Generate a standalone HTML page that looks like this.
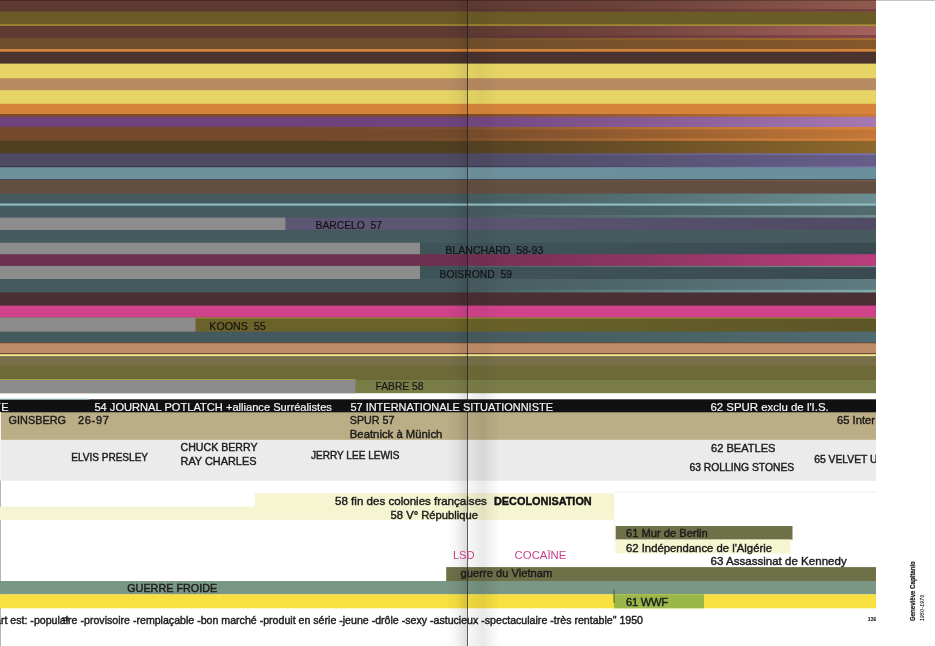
<!DOCTYPE html>
<html lang="fr"><head><meta charset="utf-8"><title>Spread 138-139</title>
<style>
html,body{margin:0;padding:0;background:#fff;}
body{width:935px;height:646px;position:relative;overflow:hidden;font-family:"Liberation Sans",Arial,Helvetica,sans-serif;}
#art{position:absolute;left:0;top:0;width:876px;height:646px;overflow:hidden;}
#art div{position:absolute;}
#art svg{position:absolute;left:0;top:0;}
.t{white-space:pre;line-height:1;-webkit-text-stroke:.42px;}
.v{position:absolute;white-space:pre;line-height:1;transform-origin:0 0;transform:rotate(-90deg);color:#1a1a1a;}
</style></head><body>
<div id="art">
<svg width="876" height="646" viewBox="0 0 876 646">
<defs><linearGradient id="g1" gradientUnits="userSpaceOnUse" x1="0" y1="0" x2="876" y2="0"><stop offset="0" stop-color="#5e3a33"/><stop offset="0.5342" stop-color="#5e3a33"/><stop offset="0.5354" stop-color="#5e3a33"/><stop offset="0.7306" stop-color="#6d433b"/><stop offset="1" stop-color="#90594e"/></linearGradient>
<linearGradient id="g2" gradientUnits="userSpaceOnUse" x1="0" y1="0" x2="876" y2="0"><stop offset="0" stop-color="#6b5a25"/><stop offset="0.5342" stop-color="#6b5a25"/><stop offset="0.5354" stop-color="#6b5a25"/><stop offset="0.7306" stop-color="#6b5b26"/><stop offset="1" stop-color="#6b5c27"/></linearGradient>
<linearGradient id="g3" gradientUnits="userSpaceOnUse" x1="0" y1="0" x2="876" y2="0"><stop offset="0" stop-color="#5e3a33"/><stop offset="0.5342" stop-color="#5e3a33"/><stop offset="0.5354" stop-color="#5e3a33"/><stop offset="0.7306" stop-color="#73463f"/><stop offset="1" stop-color="#a5615b"/></linearGradient>
<linearGradient id="g4" gradientUnits="userSpaceOnUse" x1="0" y1="0" x2="876" y2="0"><stop offset="0" stop-color="#6f4e2b"/><stop offset="0.5342" stop-color="#6f4e2b"/><stop offset="0.5354" stop-color="#704f2b"/><stop offset="0.7306" stop-color="#79522b"/><stop offset="1" stop-color="#87572c"/></linearGradient>
<linearGradient id="g5" gradientUnits="userSpaceOnUse" x1="0" y1="0" x2="876" y2="0"><stop offset="0" stop-color="#7a4a2a"/><stop offset="0.5342" stop-color="#7a4a2a"/><stop offset="0.5354" stop-color="#7f4d2b"/><stop offset="0.7306" stop-color="#9b5e30"/><stop offset="1" stop-color="#c97a38"/></linearGradient>
<linearGradient id="g6" gradientUnits="userSpaceOnUse" x1="0" y1="0" x2="876" y2="0"><stop offset="0" stop-color="#6f447c"/><stop offset="0.5342" stop-color="#6f447c"/><stop offset="0.5354" stop-color="#72477f"/><stop offset="0.7306" stop-color="#875a93"/><stop offset="1" stop-color="#a779b2"/></linearGradient>
<linearGradient id="g7" gradientUnits="userSpaceOnUse" x1="0" y1="0" x2="876" y2="0"><stop offset="0" stop-color="#744a2b"/><stop offset="0.5342" stop-color="#744a2b"/><stop offset="0.5354" stop-color="#794d2c"/><stop offset="0.7306" stop-color="#965d30"/><stop offset="1" stop-color="#c47838"/></linearGradient>
<linearGradient id="g8" gradientUnits="userSpaceOnUse" x1="0" y1="0" x2="876" y2="0"><stop offset="0" stop-color="#523f22"/><stop offset="0.5342" stop-color="#523f22"/><stop offset="0.5354" stop-color="#554123"/><stop offset="0.7306" stop-color="#6a5026"/><stop offset="1" stop-color="#8c682c"/></linearGradient>
<linearGradient id="g9" gradientUnits="userSpaceOnUse" x1="0" y1="0" x2="876" y2="0"><stop offset="0" stop-color="#4e4a63"/><stop offset="0.5342" stop-color="#4e4a63"/><stop offset="0.5354" stop-color="#4f4b65"/><stop offset="0.7306" stop-color="#585273"/><stop offset="1" stop-color="#665e8a"/></linearGradient>
<linearGradient id="g10" gradientUnits="userSpaceOnUse" x1="0" y1="0" x2="876" y2="0"><stop offset="0" stop-color="#3a3548"/><stop offset="0.5342" stop-color="#3a3548"/><stop offset="0.5354" stop-color="#3e384d"/><stop offset="0.7306" stop-color="#554b6d"/><stop offset="1" stop-color="#7a6aa0"/></linearGradient>
<linearGradient id="g11" gradientUnits="userSpaceOnUse" x1="0" y1="0" x2="876" y2="0"><stop offset="0" stop-color="#6e909d"/><stop offset="0.5342" stop-color="#6e909d"/><stop offset="0.5354" stop-color="#6e909d"/><stop offset="0.7306" stop-color="#6d8f9d"/><stop offset="1" stop-color="#6b8e9c"/></linearGradient>
<linearGradient id="g12" gradientUnits="userSpaceOnUse" x1="0" y1="0" x2="876" y2="0"><stop offset="0" stop-color="#445a5e"/><stop offset="0.5342" stop-color="#445a5e"/><stop offset="0.5354" stop-color="#465d61"/><stop offset="0.7306" stop-color="#557074"/><stop offset="1" stop-color="#6c8e92"/></linearGradient>
<linearGradient id="g13" gradientUnits="userSpaceOnUse" x1="0" y1="0" x2="876" y2="0"><stop offset="0" stop-color="#445a5e"/><stop offset="0.5342" stop-color="#445a5e"/><stop offset="0.5354" stop-color="#455b5f"/><stop offset="0.7306" stop-color="#4a6164"/><stop offset="1" stop-color="#536a6d"/></linearGradient>
<linearGradient id="g14" gradientUnits="userSpaceOnUse" x1="0" y1="0" x2="876" y2="0"><stop offset="0" stop-color="#5b5672"/><stop offset="0.5342" stop-color="#5b5672"/><stop offset="0.5354" stop-color="#5a5571"/><stop offset="0.7306" stop-color="#56516c"/><stop offset="1" stop-color="#504a64"/></linearGradient>
<linearGradient id="g15" gradientUnits="userSpaceOnUse" x1="0" y1="0" x2="876" y2="0"><stop offset="0" stop-color="#445a5e"/><stop offset="0.5342" stop-color="#445a5e"/><stop offset="0.5354" stop-color="#445a5e"/><stop offset="0.7306" stop-color="#455a5e"/><stop offset="1" stop-color="#475b5e"/></linearGradient>
<linearGradient id="g16" gradientUnits="userSpaceOnUse" x1="0" y1="0" x2="876" y2="0"><stop offset="0" stop-color="#3f5458"/><stop offset="0.5342" stop-color="#3f5458"/><stop offset="0.5354" stop-color="#3f5358"/><stop offset="0.7306" stop-color="#3d5055"/><stop offset="1" stop-color="#3a4a50"/></linearGradient>
<linearGradient id="g17" gradientUnits="userSpaceOnUse" x1="0" y1="0" x2="876" y2="0"><stop offset="0" stop-color="#6f2f4f"/><stop offset="0.5342" stop-color="#6f2f4f"/><stop offset="0.5354" stop-color="#743052"/><stop offset="0.7306" stop-color="#8e3562"/><stop offset="1" stop-color="#ba3d7d"/></linearGradient>
<linearGradient id="g18" gradientUnits="userSpaceOnUse" x1="0" y1="0" x2="876" y2="0"><stop offset="0" stop-color="#3f5458"/><stop offset="0.5342" stop-color="#3f5458"/><stop offset="0.5354" stop-color="#3f5358"/><stop offset="0.7306" stop-color="#3d5055"/><stop offset="1" stop-color="#3a4a50"/></linearGradient>
<linearGradient id="g19" gradientUnits="userSpaceOnUse" x1="0" y1="0" x2="876" y2="0"><stop offset="0" stop-color="#445a5e"/><stop offset="0.5342" stop-color="#445a5e"/><stop offset="0.5354" stop-color="#465c60"/><stop offset="0.7306" stop-color="#4f686c"/><stop offset="1" stop-color="#5e7c80"/></linearGradient>
<linearGradient id="g20" gradientUnits="userSpaceOnUse" x1="0" y1="0" x2="876" y2="0"><stop offset="0" stop-color="#6a6228"/><stop offset="0.5342" stop-color="#6a6228"/><stop offset="0.5354" stop-color="#696128"/><stop offset="0.7306" stop-color="#645d28"/><stop offset="1" stop-color="#5c5628"/></linearGradient>
<linearGradient id="g21" gradientUnits="userSpaceOnUse" x1="0" y1="0" x2="876" y2="0"><stop offset="0" stop-color="#445a5e"/><stop offset="0.5342" stop-color="#445a5e"/><stop offset="0.5354" stop-color="#455b5f"/><stop offset="0.7306" stop-color="#496165"/><stop offset="1" stop-color="#4f6b6f"/></linearGradient>
<linearGradient id="g22" gradientUnits="userSpaceOnUse" x1="468" y1="0" x2="876" y2="0"><stop offset="0.0" stop-color="#461428" stop-opacity="0.1"/><stop offset="1.0" stop-color="#461428" stop-opacity="0.35"/></linearGradient>
<linearGradient id="g23" gradientUnits="userSpaceOnUse" x1="468" y1="0" x2="876" y2="0"><stop offset="0.0" stop-color="#461428" stop-opacity="0.1"/><stop offset="1.0" stop-color="#461428" stop-opacity="0.35"/></linearGradient>
<linearGradient id="g24" gradientUnits="userSpaceOnUse" x1="468" y1="0" x2="876" y2="0"><stop offset="0.0" stop-color="#c88232" stop-opacity="0.0"/><stop offset="1.0" stop-color="#c88232" stop-opacity="0.5"/></linearGradient>
<linearGradient id="g25" gradientUnits="userSpaceOnUse" x1="300" y1="0" x2="876" y2="0"><stop offset="0.0" stop-color="#d8843a" stop-opacity="0.0"/><stop offset="0.3" stop-color="#d8843a" stop-opacity="0.12"/><stop offset="1.0" stop-color="#d8843a" stop-opacity="0.9"/></linearGradient>
<linearGradient id="g26" gradientUnits="userSpaceOnUse" x1="300" y1="0" x2="876" y2="0"><stop offset="0.0" stop-color="#d8843a" stop-opacity="0.0"/><stop offset="0.3" stop-color="#d8843a" stop-opacity="0.12"/><stop offset="1.0" stop-color="#d8843a" stop-opacity="0.9"/></linearGradient>
<linearGradient id="g27" gradientUnits="userSpaceOnUse" x1="468" y1="0" x2="876" y2="0"><stop offset="0.0" stop-color="#827db9" stop-opacity="0.0"/><stop offset="1.0" stop-color="#827db9" stop-opacity="0.7"/></linearGradient>
<linearGradient id="g28" gradientUnits="userSpaceOnUse" x1="468" y1="0" x2="876" y2="0"><stop offset="0.0" stop-color="#82644b" stop-opacity="0.0"/><stop offset="1.0" stop-color="#82644b" stop-opacity="0.5"/></linearGradient>
<linearGradient id="g29" gradientUnits="userSpaceOnUse" x1="468" y1="0" x2="876" y2="0"><stop offset="0.0" stop-color="#82aaaa" stop-opacity="0.0"/><stop offset="1.0" stop-color="#82aaaa" stop-opacity="0.6"/></linearGradient>
<linearGradient id="g30" gradientUnits="userSpaceOnUse" x1="468" y1="0" x2="876" y2="0"><stop offset="0.0" stop-color="#82a096" stop-opacity="0.2"/><stop offset="1.0" stop-color="#82a096" stop-opacity="0.8"/></linearGradient>
<linearGradient id="g31" gradientUnits="userSpaceOnUse" x1="468" y1="0" x2="876" y2="0"><stop offset="0.0" stop-color="#8cb9b9" stop-opacity="0.0"/><stop offset="1.0" stop-color="#8cb9b9" stop-opacity="0.75"/></linearGradient>
<linearGradient id="g32" gradientUnits="userSpaceOnUse" x1="446" y1="0" x2="467.5" y2="0"><stop offset="0.0" stop-color="#000000" stop-opacity="0.0"/><stop offset="0.5" stop-color="#000000" stop-opacity="0.03"/><stop offset="1.0" stop-color="#000000" stop-opacity="0.09"/></linearGradient>
<linearGradient id="g33" gradientUnits="userSpaceOnUse" x1="468" y1="0" x2="500" y2="0"><stop offset="0.0" stop-color="#000000" stop-opacity="0.02"/><stop offset="0.45" stop-color="#000000" stop-opacity="0.04"/><stop offset="1.0" stop-color="#000000" stop-opacity="0.0"/></linearGradient>
<linearGradient id="g34" gradientUnits="userSpaceOnUse" x1="446" y1="0" x2="467.5" y2="0"><stop offset="0.0" stop-color="#000000" stop-opacity="0.0"/><stop offset="0.5" stop-color="#000000" stop-opacity="0.04"/><stop offset="1.0" stop-color="#000000" stop-opacity="0.14"/></linearGradient>
<linearGradient id="g35" gradientUnits="userSpaceOnUse" x1="468" y1="0" x2="500" y2="0"><stop offset="0.0" stop-color="#000000" stop-opacity="0.03"/><stop offset="0.45" stop-color="#000000" stop-opacity="0.085"/><stop offset="1.0" stop-color="#000000" stop-opacity="0.0"/></linearGradient></defs>
<rect x="0" y="0" width="876" height="13.1" fill="url(#g1)"/>
<rect x="0" y="11.6" width="876" height="14.4" fill="url(#g2)"/>
<rect x="0" y="24.5" width="876" height="2.7" fill="#b5a035"/>
<rect x="0" y="25.7" width="876" height="13.8" fill="url(#g3)"/>
<rect x="0" y="38" width="876" height="12.5" fill="url(#g4)"/>
<rect x="0" y="49" width="876" height="4.2" fill="#d4843a"/>
<rect x="0" y="51.7" width="876" height="13.4" fill="#4a322e"/>
<rect x="0" y="63.6" width="876" height="16.1" fill="#e6d464"/>
<rect x="0" y="78.2" width="876" height="13.5" fill="#b78a62"/>
<rect x="0" y="90.2" width="876" height="15.1" fill="#e6d464"/>
<rect x="0" y="103.8" width="876" height="11.7" fill="#d6843a"/>
<rect x="0" y="114" width="876" height="4.3" fill="url(#g5)"/>
<rect x="0" y="116.8" width="876" height="11.7" fill="url(#g6)"/>
<rect x="0" y="127" width="876" height="15.2" fill="url(#g7)"/>
<rect x="0" y="140.7" width="876" height="14.2" fill="url(#g8)"/>
<rect x="0" y="153.4" width="876" height="14.0" fill="url(#g9)"/>
<rect x="0" y="165.9" width="876" height="2.8" fill="url(#g10)"/>
<rect x="0" y="167.2" width="876" height="13.3" fill="url(#g11)"/>
<rect x="0" y="179" width="876" height="2.5" fill="#3f4f58"/>
<rect x="0" y="180" width="876" height="15.1" fill="#634f40"/>
<rect x="0" y="193.6" width="876" height="11.4" fill="url(#g12)"/>
<rect x="0" y="203.5" width="876" height="3.7" fill="#8bbcc0"/>
<rect x="0" y="205.7" width="876" height="13.4" fill="url(#g13)"/>
<rect x="0" y="217.6" width="876" height="13.9" fill="url(#g14)"/>
<rect x="0" y="230" width="876" height="14.3" fill="url(#g15)"/>
<rect x="0" y="242.8" width="876" height="12.9" fill="url(#g16)"/>
<rect x="0" y="254.2" width="876" height="13.2" fill="url(#g17)"/>
<rect x="0" y="265.9" width="876" height="14.6" fill="url(#g18)"/>
<rect x="0" y="279" width="876" height="14.9" fill="url(#g19)"/>
<rect x="0" y="292.4" width="876" height="14.7" fill="#4a2f35"/>
<rect x="0" y="305.6" width="876" height="13.4" fill="#d0428a"/>
<rect x="0" y="317.5" width="876" height="15.6" fill="url(#g20)"/>
<rect x="0" y="331.6" width="876" height="12.2" fill="url(#g21)"/>
<rect x="0" y="342.3" width="876" height="2.5" fill="#6b4a3a"/>
<rect x="0" y="343.3" width="876" height="11.2" fill="#be8d68"/>
<rect x="0" y="353" width="876" height="2.7" fill="#6b4a3a"/>
<rect x="0" y="354.2" width="876" height="3.4" fill="#f5e890"/>
<rect x="0" y="356.1" width="876" height="11.3" fill="#77704a"/>
<rect x="0" y="365.9" width="876" height="14.6" fill="#6e6a38"/>
<rect x="0" y="379" width="876" height="2.5" fill="#6e6a38"/>
<rect x="0" y="380" width="876" height="14.7" fill="#7a7c48"/>
<rect x="0" y="393.2" width="876" height="7.6" fill="#ffffff"/>
<rect x="0" y="399.3" width="876" height="14.5" fill="#111111"/>
<rect x="0" y="412.3" width="876" height="29.0" fill="#bbad85"/>
<rect x="0" y="439.8" width="876" height="41.0" fill="#ebebeb"/>
<rect x="0" y="412" width="1" height="68.5" fill="#f4f4f4"/><rect x="0" y="480.5" width="1" height="166" fill="#b4b4b4"/>
<rect x="0" y="217.6" width="285.4" height="12.4" fill="#8c8c8c"/>
<rect x="0" y="242.8" width="420" height="11.4" fill="#8c8c8c"/>
<rect x="0" y="265.9" width="420" height="13.1" fill="#8c8c8c"/>
<rect x="0" y="317.5" width="195.5" height="14.1" fill="#8c8c8c"/>
<rect x="0" y="379" width="355.5" height="1.2" fill="#a09a40"/>
<rect x="0" y="380" width="355.5" height="13.2" fill="#8c8c8c"/>
<rect x="0" y="398.7" width="89" height="1.1" fill="#8fb0b0"/>
<rect x="468" y="9" width="408" height="2.6" fill="url(#g22)"/>
<rect x="468" y="35" width="408" height="3" fill="url(#g23)"/>
<rect x="468" y="38" width="408" height="2" fill="url(#g24)"/>
<rect x="300" y="127" width="576" height="2.5" fill="url(#g25)"/>
<rect x="300" y="138.5" width="576" height="2.2" fill="url(#g26)"/>
<rect x="468" y="153.4" width="408" height="1.6" fill="url(#g27)"/>
<rect x="468" y="180" width="408" height="1.5" fill="url(#g28)"/>
<rect x="468" y="215" width="408" height="2.6" fill="url(#g29)"/>
<rect x="468" y="265.9" width="408" height="1.3" fill="url(#g30)"/>
<rect x="468" y="289.8" width="408" height="2.6" fill="url(#g31)"/>
<rect x="195.5" y="317.5" width="680.5" height="1.1" fill="#9a8c3c"/>
<rect x="255" y="493.1" width="359.2" height="14.1" fill="#f6f5d2"/>
<rect x="614" y="519.8" width="1" height="33.6" fill="#f7f7e8"/>
<rect x="0" y="506.6" width="614.2" height="13.2" fill="#f6f5d2"/>
<rect x="615.7" y="526" width="176.8" height="13.6" fill="#6e7048"/>
<rect x="615.7" y="539.6" width="174.9" height="13.8" fill="#f6f5d2"/>
<rect x="446.2" y="567.1" width="429.8" height="14.3" fill="#6e7048"/>
<rect x="0" y="581" width="876" height="13.5" fill="#7a9684"/>
<rect x="0" y="594.3" width="876" height="14.0" fill="#f8e040"/>
<rect x="614" y="594.3" width="90" height="14.0" fill="#9ab84a"/>
<rect x="613.5" y="589.5" width="1.0" height="13.5" fill="#4c5a3c"/>
<rect x="614.2" y="491.3" width="261.8" height="1.0" fill="#efefef"/>
<rect x="0" y="0" width="876" height="1" fill="#000" fill-opacity=".25"/>
<rect x="446" y="0" width="21.5" height="393" fill="url(#g32)"/>
<rect x="468" y="0" width="32" height="393" fill="url(#g33)"/>
<rect x="446" y="393" width="21.5" height="253" fill="url(#g34)"/>
<rect x="468" y="393" width="32" height="253" fill="url(#g35)"/>
<rect x="467" y="0" width="1" height="646" fill="#231c1c" fill-opacity=".7"/>
</svg>
<div class="t" style="left:-6px;top:401.8px;font-size:11px;color:#f4f4f4;font-weight:400;letter-spacing:0.469px;-webkit-text-stroke:.2px">TE</div>
<div class="t" style="left:94.4px;top:401.74px;font-size:11.12px;color:#f4f4f4;font-weight:400;letter-spacing:0.002px;-webkit-text-stroke:.2px">54 JOURNAL POTLATCH +alliance Surréalistes</div>
<div class="t" style="left:350.4px;top:401.81px;font-size:10.97px;color:#f4f4f4;font-weight:400;letter-spacing:0.001px;-webkit-text-stroke:.2px">57 INTERNATIONALE SITUATIONNISTE</div>
<div class="t" style="left:710.4px;top:401.59px;font-size:11.43px;color:#f4f4f4;font-weight:400;letter-spacing:0;-webkit-text-stroke:.2px">62 SPUR exclu de l'I.S.</div>
<div class="t" style="left:8.6px;top:414.86px;font-size:10.88px;color:#1c1c1c;font-weight:400;letter-spacing:-0.002px">GINSBERG</div>
<div class="t" style="left:78px;top:414.8px;font-size:11px;color:#1c1c1c;font-weight:400;letter-spacing:0.692px">26-97</div>
<div class="t" style="left:349.8px;top:414.94px;font-size:10.71px;color:#1c1c1c;font-weight:400;letter-spacing:0">SPUR 57</div>
<div class="t" style="left:349.8px;top:428.63px;font-size:11.33px;color:#1c1c1c;font-weight:400;letter-spacing:-0.001px">Beatnick à Münich</div>
<div class="t" style="left:837px;top:414.7px;font-size:11.2px;color:#1c1c1c;font-weight:400;letter-spacing:0px">65 Inter</div>
<div class="t" style="left:71.2px;top:452.78px;font-size:10.05px;color:#1c1c1c;font-weight:400;letter-spacing:-0.003px">ELVIS PRESLEY</div>
<div class="t" style="left:180.5px;top:441.99px;font-size:10.62px;color:#1c1c1c;font-weight:400;letter-spacing:-0.003px">CHUCK BERRY</div>
<div class="t" style="left:180.5px;top:455.84px;font-size:10.92px;color:#1c1c1c;font-weight:400;letter-spacing:0.002px">RAY CHARLES</div>
<div class="t" style="left:311px;top:450.78px;font-size:10.05px;color:#1c1c1c;font-weight:400;letter-spacing:-0.001px">JERRY LEE LEWIS</div>
<div class="t" style="left:711px;top:442.76px;font-size:11.08px;color:#1c1c1c;font-weight:400;letter-spacing:-0.003px">62 BEATLES</div>
<div class="t" style="left:689.4px;top:462.63px;font-size:10.33px;color:#1c1c1c;font-weight:400;letter-spacing:0">63 ROLLING STONES</div>
<div class="t" style="left:814.3px;top:454.65px;font-size:10.3px;color:#1c1c1c;font-weight:400;letter-spacing:0px">65 VELVET UN</div>
<div class="t" style="left:335px;top:495.51px;font-size:11.58px;color:#1c1c1c;font-weight:400;letter-spacing:-0.001px">58 fin des colonies françaises</div>
<div class="t" style="left:494px;top:495.86px;font-size:10.88px;color:#111;font-weight:700;letter-spacing:0.002px">DECOLONISATION</div>
<div class="t" style="left:390.6px;top:509.69px;font-size:11.21px;color:#1c1c1c;font-weight:400;letter-spacing:-0.002px">58 V° République</div>
<div class="t" style="left:452.9px;top:549.7px;font-size:11.2px;color:#c8408c;font-weight:400;letter-spacing:-0.055px;-webkit-text-stroke:0">LSD</div>
<div class="t" style="left:514.6px;top:549.62px;font-size:11.37px;color:#c8408c;font-weight:400;letter-spacing:0.001px;-webkit-text-stroke:0">COCAÏNE</div>
<div class="t" style="left:460.6px;top:567.71px;font-size:11.18px;color:#1c1c1c;font-weight:400;letter-spacing:-0.001px">guerre du Vietnam</div>
<div class="t" style="left:127.2px;top:582.89px;font-size:10.81px;color:#1c1c1c;font-weight:400;letter-spacing:0.001px">GUERRE FROIDE</div>
<div class="t" style="left:626px;top:527.72px;font-size:11.15px;color:#1c1c1c;font-weight:400;letter-spacing:0">61 Mur de Berlin</div>
<div class="t" style="left:626px;top:542.64px;font-size:11.31px;color:#1c1c1c;font-weight:400;letter-spacing:0">62 Indépendance de l'Algérie</div>
<div class="t" style="left:710.6px;top:555.52px;font-size:11.55px;color:#1c1c1c;font-weight:400;letter-spacing:-0.001px">63 Assassinat de Kennedy</div>
<div class="t" style="left:626px;top:596.7px;font-size:11.2px;color:#1c1c1c;font-weight:400;letter-spacing:-0.301px">61 WWF</div>
<div class="t" style="left:-5.0px;top:615.0px;font-size:10.61px;color:#1c1c1c;font-weight:400;letter-spacing:-0.002px">art est: -populaire -provisoire -remplaçable -bon marché -produit en série -jeune -drôle -sexy -astucieux -spectaculaire -très rentable&quot; 1950</div>
<div class="t" style="left:315.5px;top:220.64px;font-size:10.32px;color:rgba(12,12,14,.86);font-weight:400;letter-spacing:0;-webkit-text-stroke:.2px">BARCELO  57</div>
<div class="t" style="left:445.3px;top:245.02px;font-size:10.57px;color:rgba(12,12,14,.86);font-weight:400;letter-spacing:0.001px;-webkit-text-stroke:.2px">BLANCHARD  58-93</div>
<div class="t" style="left:439.5px;top:269.62px;font-size:10.36px;color:rgba(12,12,14,.86);font-weight:400;letter-spacing:0;-webkit-text-stroke:.2px">BOISROND  59</div>
<div class="t" style="left:209.3px;top:320.97px;font-size:10.67px;color:rgba(12,12,14,.86);font-weight:400;letter-spacing:0.001px;-webkit-text-stroke:.2px">KOONS  55</div>
<div class="t" style="left:375.5px;top:381.66px;font-size:10.29px;color:rgba(12,12,14,.86);font-weight:400;letter-spacing:-0.002px;-webkit-text-stroke:.2px">FABRE 58</div>
<div class="t" style="left:61.5px;top:617.4px;font-size:5.8px;color:#111;font-weight:700;letter-spacing:-1.058px;-webkit-text-stroke:0">138</div>
<div class="t" style="left:867.6px;top:617.4px;font-size:5.8px;color:#111;font-weight:700;letter-spacing:-0.329px;-webkit-text-stroke:0">139</div>
</div>
<div style="position:absolute;left:876px;top:0;width:59px;height:1px;background:#c4c4c4"></div>
<div class="v" style="left:908.9px;top:621px;font-size:8px;font-weight:700;-webkit-text-stroke:.25px;transform:rotate(-90deg) scaleX(.76)">Geneviève Capitanio</div>
<div class="v" style="left:920.8px;top:620.5px;font-size:4.6px;font-style:italic;letter-spacing:.5px;-webkit-text-stroke:.15px">1950-1970</div>
</body></html>
